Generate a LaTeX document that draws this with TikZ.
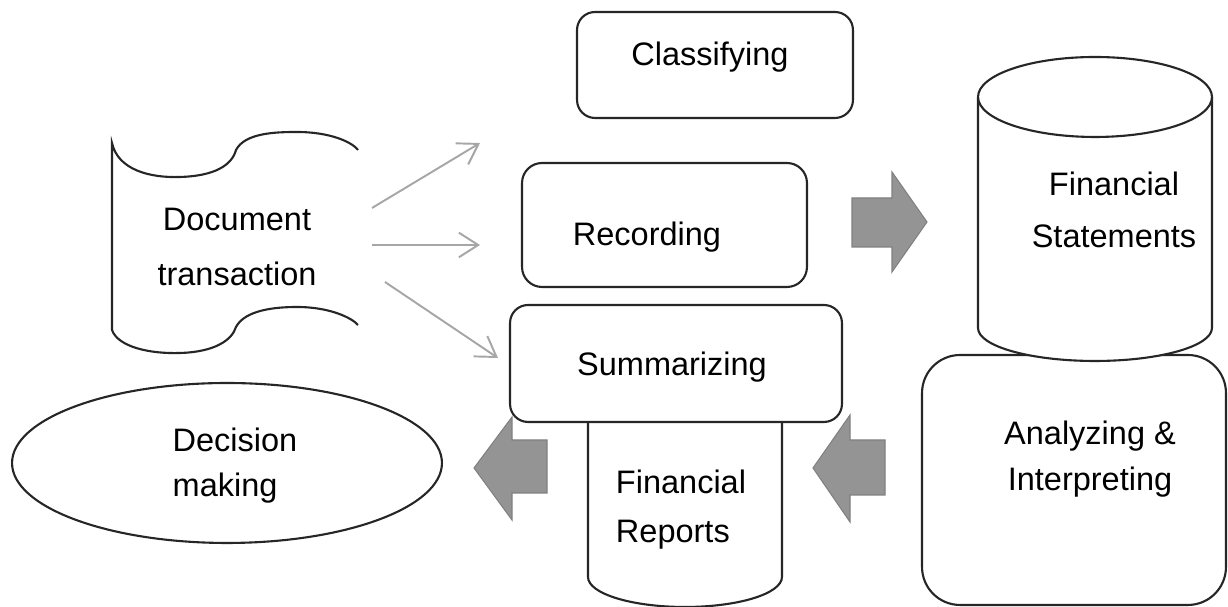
\documentclass[tikz,border=0pt]{standalone}
\usepackage{fontspec}
\setmainfont{Liberation Sans}
\usetikzlibrary{arrows.meta,shapes.geometric}
\tikzset{
  procbox/.style={draw=black!85,line width=1.2pt,fill=white,rounded corners=#1,inner sep=0pt},
  procbox/.default=0.36cm,
  store/.style={draw=black!85,line width=1.2pt,fill=white},
  txt/.style={font=\fontsize{18.5}{#1}\selectfont,align=center,inner sep=0pt},
  txt/.default=30,
  bigarrow/.style={draw=black!50,line width=0.6pt,fill=black!42},
  thinarrow/.style={draw=black!35,line width=1.1pt,-{Straight Barb[length=11pt,width=14pt]}}
}

\begin{document}
\begin{tikzpicture}[x=0.02cm,y=0.02cm]
  \useasboundingbox (0,0) rectangle (1228,607);

  % classifying and recording
  \node[procbox,minimum width=5.52cm,minimum height=2.12cm] (classify) at (715,542) {};
  \node[txt] (classify-t) at (710,550) {Classifying};
  \node[procbox=0.4cm,minimum width=5.70cm,minimum height=2.48cm] (record) at (664.5,382) {};
  \node[txt] (record-t) at (647,370) {Recording};

  % financial reports, top hidden by summarizing
  \draw[store] (588,260) -- (588,30)
    arc[start angle=180,end angle=360,x radius=1.94cm,y radius=0.6cm] -- (782,260);
  \node[procbox,minimum width=6.64cm,minimum height=2.34cm] (summ) at (676,243.5) {};
  \node[txt] (summ-t) at (672,239.5) {Summarizing};
  \node[txt=28,align=left] (fr) at (681,97.5) {Financial\\Reports};

  % analyzing box, statements cylinder sits on it
  \node[procbox=0.76cm,minimum width=6.08cm,minimum height=5cm] (analyse) at (1074,127) {};
  \node[txt=26.5] (analyse-t) at (1090,148) {Analyzing \&\\Interpreting};
  \draw[store] (978,510) -- (978,279)
    arc[start angle=180,end angle=360,x radius=2.34cm,y radius=0.66cm] -- (1212,510);
  \draw[store] (1095,510) ellipse[x radius=2.34cm,y radius=0.8cm];
  \node[txt] (fs) at (1114,397) {Financial\\Statements};

  % source document
  \draw[store] (358,457) .. controls (352,465) and (330,475) .. (297,475)
    .. controls (275,475) and (245,474) .. (236,457)
    .. controls (232,442) and (215,431) .. (180,430)
    .. controls (150,429) and (118,437) .. (112,464)
    -- (112,277)
    .. controls (118,260) and (150,253) .. (180,254)
    .. controls (215,255) and (232,267) .. (236,280)
    .. controls (245,297) and (275,300) .. (297,300)
    .. controls (330,300) and (352,289) .. (358,282);
  \node[txt=31] (doc) at (237,360) {Document\\transaction};

  % decision
  \node[draw=black!85,line width=1.2pt,ellipse,inner sep=0pt,
        minimum width=8.6cm,minimum height=3.2cm] (decide) at (227,144) {};
  \node[txt=25.5,align=left] (decide-t) at (235,141) {Decision\\making};

  % thin arrows out of the document
  \coordinate (doc-a) at (372,399);
  \coordinate (doc-b) at (372,362);
  \coordinate (doc-c) at (385,325);
  \coordinate (to-class) at (480,464);
  \coordinate (to-rec) at (480,362);
  \coordinate (to-summ) at (498,249);
  \draw[thinarrow] (doc-a) -- (to-class);
  \draw[thinarrow] (doc-b) -- (to-rec);
  \draw[thinarrow] (doc-c) -- (to-summ);

  % block arrows
  \draw[bigarrow] (852,409) -- (892,409) -- (892,435) -- (927,385)
    -- (892,335) -- (892,360) -- (852,360) -- cycle;
  \draw[bigarrow] (885,167) -- (850,167) -- (850,192) -- (813,139)
    -- (850,85) -- (850,112) -- (885,112) -- cycle;
  \draw[bigarrow] (547,167) -- (512,167) -- (512,190) -- (474,139)
    -- (512,87) -- (512,114) -- (547,114) -- cycle;
\end{tikzpicture}
\end{document}
